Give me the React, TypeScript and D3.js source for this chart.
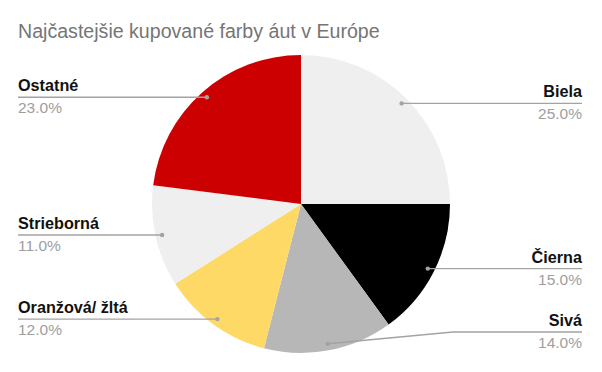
import React from 'react'
import * as d3 from 'd3'

// chart data
const title = 'Najčastejšie kupované farby áut v Európe'
const categories = ['Biela', 'Čierna', 'Sivá', 'Oranžová/ žltá', 'Strieborná', 'Ostatné']
const shares = [25.0, 15.0, 14.0, 12.0, 11.0, 23.0]
const colors = ['#efefef', '#000000', '#b7b7b7', '#ffd966', '#efefef', '#cc0000']

const width = 602
const height = 372
const cx = 301
const cy = 204
const radius = 149
const leftX = 18
const rightX = 582
const maxLabelY = 332
const font = 'Arial, "Liberation Sans", sans-serif'

export default function App() {
  const pie = d3.pie<number>().sort(null).value((d) => d)
  const arcs = pie(shares)

  const arc = d3.arc<d3.PieArcDatum<number>>().innerRadius(0).outerRadius(radius)
  // dot where the leader line starts, just inside the rim
  const dotArc = d3
    .arc<d3.PieArcDatum<number>>()
    .innerRadius(radius * 0.955)
    .outerRadius(radius * 0.955)

  const total = d3.sum(shares)
  const fmt = d3.format('.1f')

  return (
    <svg
      width={width}
      height={height}
      style={{ position: 'absolute', left: 0, top: 0, background: '#fff' }}
    >
      <text x={18} y={38} fontFamily={font} fontSize={19.6} fill="#757575">
        {title}
      </text>
      <g transform={`translate(${cx},${cy})`}>
        {arcs.map((a, i) => (
          <path key={i} d={arc(a) || ''} fill={colors[i]} />
        ))}
      </g>
      {arcs.map((a, i) => {
        const [dx, dy] = dotArc.centroid(a)
        const px = cx + dx
        const py = cy + dy
        const right = px > cx
        const ly = Math.min(py, maxLabelY)
        const endX = right ? rightX : leftX
        let pts: [number, number][] = [[px, py], [endX, ly]]
        if (Math.abs(ly - py) > 1) {
          const kink = right ? 453 : 150
          pts = [[px, py], [kink, ly], [endX, ly]]
        }
        const line = d3.line()(pts) || ''
        const anchor = right ? 'end' : 'start'
        return (
          <g key={i}>
            <path d={line} fill="none" stroke="#a3a3a3" strokeWidth={1.4} />
            <circle cx={px} cy={py} r={2.2} fill="#a3a3a3" />
            <text
              x={endX}
              y={ly - 6}
              textAnchor={anchor}
              fontFamily={font}
              fontSize={16.2}
              fontWeight="bold"
              fill="#111"
            >
              {categories[i]}
            </text>
            <text
              x={endX}
              y={ly + 16}
              textAnchor={anchor}
              fontFamily={font}
              fontSize={15.5}
              fill="#9e9e9e"
            >
              {fmt((shares[i] / total) * 100)}%
            </text>
          </g>
        )
      })}
    </svg>
  )
}
